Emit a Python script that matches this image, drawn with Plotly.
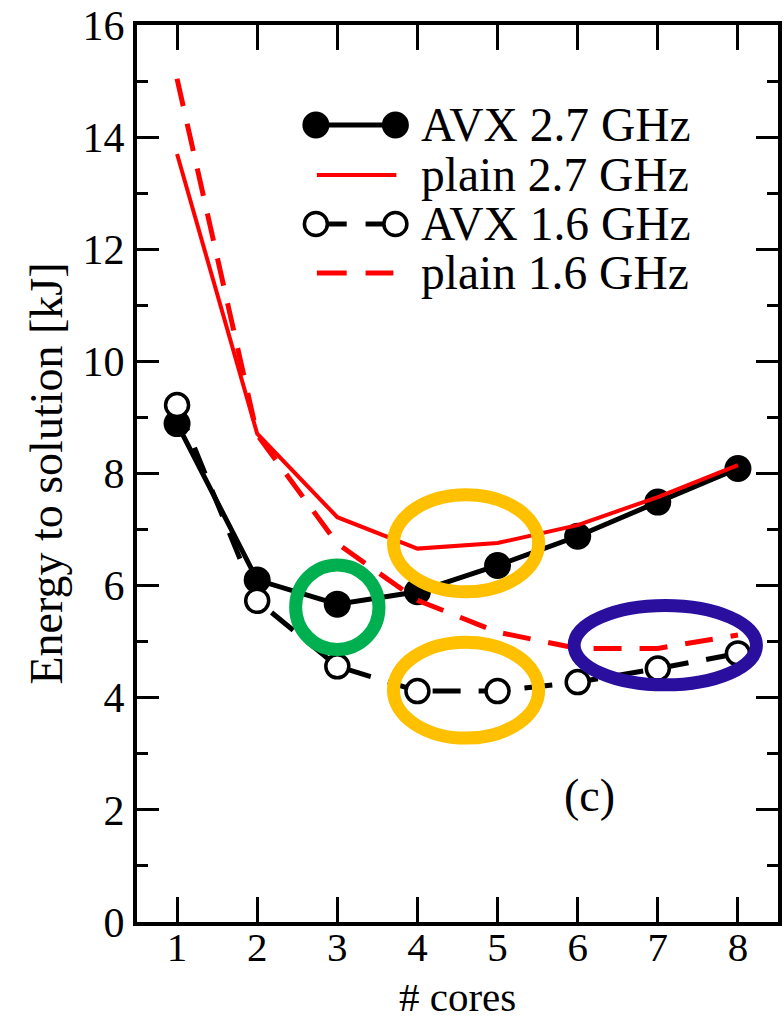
import plotly.graph_objects as go

# Energy to solution vs. number of cores
cores = [1, 2, 3, 4, 5, 6, 7, 8]
avx_27 = [8.89, 6.10, 5.67, 5.89, 6.36, 6.88, 7.49, 8.09]
plain_27 = [13.70, 8.71, 7.22, 6.66, 6.76, 7.08, 7.58, 8.15]
avx_16 = [9.22, 5.73, 4.56, 4.12, 4.12, 4.28, 4.52, 4.79]
plain_16 = [15.04, 8.69, 6.75, 5.74, 5.17, 4.88, 4.88, 5.12]

legend_labels = ["AVX 2.7 GHz", "plain 2.7 GHz", "AVX 1.6 GHz", "plain 1.6 GHz"]
y_ticks = [0, 2, 4, 6, 8, 10, 12, 14, 16]

FONT = "Liberation Serif, Times New Roman, serif"
W, H = 784, 1017
ML, MR, MT, MB = 137, 2, 25, 95
PW, PH = W - ML - MR, H - MT - MB

RED = "#ff0000"
DASH = "28px,18px"


def px(x):
    return (x - ML) / PW


def py(y):
    return 1 - (y - MT) / PH


fig = go.Figure()

fig.add_trace(go.Scatter(
    x=cores, y=avx_27, mode="lines+markers", name=legend_labels[0],
    line=dict(color="black", width=5),
    marker=dict(symbol="circle", size=27, color="black"),
))
fig.add_trace(go.Scatter(
    x=cores, y=plain_27, mode="lines", name=legend_labels[1],
    line=dict(color=RED, width=4),
))
fig.add_trace(go.Scatter(
    x=cores, y=avx_16, mode="lines+markers", name=legend_labels[2],
    line=dict(color="black", width=5, dash=DASH),
    marker=dict(symbol="circle", size=23, color="white",
                line=dict(color="black", width=3.5)),
))
fig.add_trace(go.Scatter(
    x=cores, y=plain_16, mode="lines", name=legend_labels[3],
    line=dict(color=RED, width=5, dash=DASH),
))

shapes = []
annotations = []

# Highlight rings
rings = [
    (2.48, 3.52, 4.86, 6.37, "#00b050"),
    (3.701, 5.513, 5.89, 7.62, "#ffc000"),
    (3.701, 5.513, 3.28, 4.99, "#ffc000"),
    (5.956, 8.231, 4.23, 5.645, "#2a0e9e"),
]
for x0, x1, y0, y1, c in rings:
    shapes.append(dict(type="circle", xref="x", yref="y", x0=x0, x1=x1,
                       y0=y0, y1=y1, line=dict(color=c, width=13),
                       layer="above"))

# Legend drawn in the upper part of the plot
rows = [125, 175, 224, 273]
lx0, lx1, tx = 317, 397, 421
# row 1: solid black with filled markers
shapes.append(dict(type="line", xref="paper", yref="paper",
                   x0=px(lx0), x1=px(lx1), y0=py(rows[0]), y1=py(rows[0]),
                   line=dict(color="black", width=5)))
for xm in (lx0, lx1):
    shapes.append(dict(type="circle", xref="paper", yref="paper",
                       xsizemode="pixel", ysizemode="pixel",
                       xanchor=px(xm), yanchor=py(rows[0]),
                       x0=-13.5, x1=13.5, y0=-13.5, y1=13.5,
                       fillcolor="black", line=dict(color="black", width=0)))
# row 2: solid red
shapes.append(dict(type="line", xref="paper", yref="paper",
                   x0=px(318), x1=px(398), y0=py(rows[1]), y1=py(rows[1]),
                   line=dict(color=RED, width=4)))
# row 3: dashed black with open markers
for a, b in ((328, 348), (367, 387)):
    shapes.append(dict(type="line", xref="paper", yref="paper",
                       x0=px(a), x1=px(b), y0=py(rows[2]), y1=py(rows[2]),
                       line=dict(color="black", width=5)))
for xm in (lx0, lx1):
    shapes.append(dict(type="circle", xref="paper", yref="paper",
                       xsizemode="pixel", ysizemode="pixel",
                       xanchor=px(xm), yanchor=py(rows[2]),
                       x0=-11.5, x1=11.5, y0=-11.5, y1=11.5,
                       fillcolor="white", line=dict(color="black", width=3.5)))
# row 4: dashed red
for a, b in ((318, 348), (367, 395)):
    shapes.append(dict(type="line", xref="paper", yref="paper",
                       x0=px(a), x1=px(b), y0=py(rows[3]), y1=py(rows[3]),
                       line=dict(color=RED, width=5)))

for label, r in zip(legend_labels, rows):
    annotations.append(dict(xref="paper", yref="paper", x=px(tx), y=py(r),
                            text=label, showarrow=False, xanchor="left",
                            yanchor="middle",
                            font=dict(family=FONT, size=47.5, color="black")))

annotations.append(dict(xref="x", yref="y", x=6.15, y=2.26, text="(c)",
                        showarrow=False,
                        font=dict(family=FONT, size=46, color="black")))

# axis titles
annotations.append(dict(xref="paper", yref="paper", x=px(460), y=py(1015),
                        text="# cores", showarrow=False, xanchor="center",
                        yanchor="bottom", height=32, valign="middle",
                        font=dict(family=FONT, size=41, color="black")))
annotations.append(dict(xref="paper", yref="paper", x=px(45), y=py(474),
                        text="Energy to solution [kJ]", showarrow=False,
                        textangle=-90, xanchor="center", yanchor="middle",
                        font=dict(family=FONT, size=46, color="black")))

axis_common = dict(
    showgrid=False, zeroline=False, showline=True, linecolor="black",
    linewidth=4, mirror="allticks", ticks="inside", tickcolor="black",
    tickwidth=3,
)

fig.update_layout(
    width=W, height=H,
    margin=dict(l=ML, r=MR, t=MT, b=MB, pad=0),
    paper_bgcolor="white", plot_bgcolor="white",
    showlegend=False,
    shapes=shapes, annotations=annotations,
    xaxis=dict(axis_common, range=[0.5, 8.5], tickvals=cores,
               ticktext=[str(c) for c in cores], ticklen=25,
               tickfont=dict(family=FONT, size=41, color="black"),
               ticklabelstandoff=-14),
    yaxis=dict(axis_common, range=[0, 16], tickvals=y_ticks, ticklen=22,
               tickfont=dict(family=FONT, size=42, color="black"),
               minor=dict(dtick=1, ticks="inside", ticklen=11, tickwidth=3,
                          tickcolor="black")),
)

fig.write_html("out.html")
